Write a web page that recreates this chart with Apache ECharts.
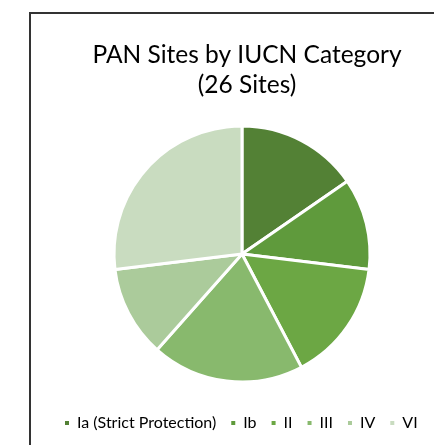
<!DOCTYPE html>
<html>
<head>
<meta charset="utf-8">
<script src="https://cdn.jsdelivr.net/npm/echarts@6/dist/echarts.min.js"></script>
<style>
  html, body { margin: 0; padding: 0; background: #fff; }
  #chart { width: 434px; height: 445px; }
</style>
</head>
<body>
<div id="chart"></div>
<script>
const categories = ['Ia (Strict Protection)', 'Ib', 'II', 'III', 'IV', 'VI']
const siteCounts = [4, 3, 4, 5, 3, 7]
const sliceColors = ['#538135', '#5f9a3c', '#6ca744', '#88b96d', '#abcb9b', '#c9dcc0']

const chart = echarts.init(document.getElementById('chart'))

const option = {
  backgroundColor: '#fff',
  animation: false,
  title: {
    text: 'PAN Sites by IUCN Category\n(26 Sites)',
    left: 242,
    top: 35,
    textAlign: 'center',
    textStyle: {
      fontFamily: 'Lato',
      fontSize: 24.5,
      fontWeight: 'normal',
      color: '#000',
      lineHeight: 30
    }
  },
  legend: {
    top: 415,
    left: 63,
    width: 420,
    padding: 0,
    icon: 'rect',
    itemWidth: 6,
    itemHeight: 6,
    itemGap: 13,
    textStyle: { fontFamily: 'Lato', fontSize: 16, color: '#000', padding: [0, 0, 0, 2] },
    data: categories
  },
  graphic: [{
    type: 'rect',
    shape: { x: 30, y: 13, width: 440, height: 460 },
    style: { fill: 'none', stroke: '#333', lineWidth: 2 }
  }],
  series: [{
    type: 'pie',
    center: [242, 254],
    radius: 128,
    startAngle: 90,
    clockwise: true,
    label: { show: false },
    labelLine: { show: false },
    itemStyle: { borderColor: '#fff', borderWidth: 3 },
    data: categories.map((name, i) => ({
      name: name,
      value: siteCounts[i],
      itemStyle: { color: sliceColors[i] }
    }))
  }]
}

chart.setOption(option)
</script>
</body>
</html>
